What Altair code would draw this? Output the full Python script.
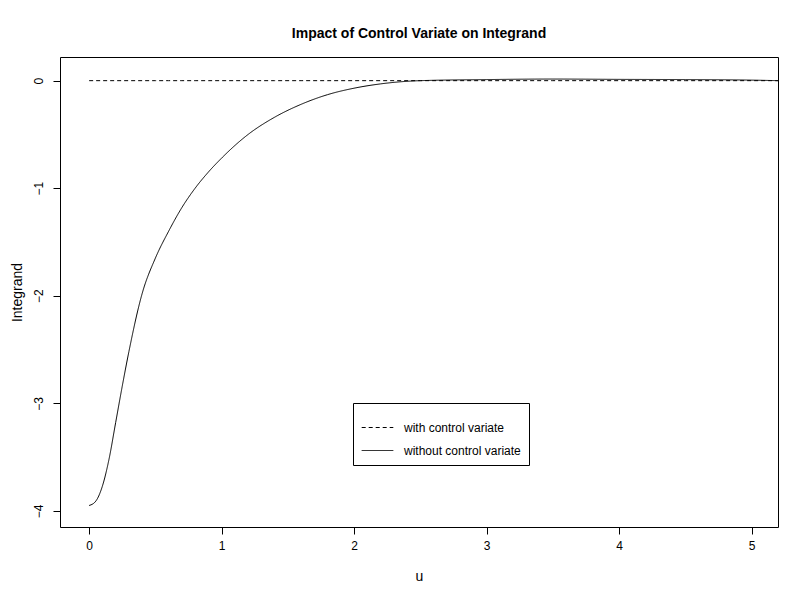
import altair as alt
import pandas as pd

u = [0, 0.05, 0.1, 0.15, 0.2, 0.25, 0.3, 0.4, 0.5, 0.6, 0.7, 0.8, 0.9, 1.0,
     1.2, 1.4, 1.6, 1.8, 2.0, 2.2, 2.5, 3.0, 3.5, 4.0, 4.5, 5.0, 5.2]
without_cv = [-3.95, -3.91, -3.77, -3.52, -3.18, -2.84, -2.52, -1.98, -1.65, -1.4,
              -1.18, -1.0, -0.85, -0.72, -0.5, -0.34, -0.22, -0.13, -0.07,
              -0.03, 0.0, 0.01, 0.015, 0.012, 0.01, 0.005, 0.0]
with_cv = [0.0] * len(u)

rows = []
for x, a, b in zip(u, with_cv, without_cv):
    rows.append({"u": x, "val": a, "series": "with control variate"})
    rows.append({"u": x, "val": b, "series": "without control variate"})
df = pd.DataFrame(rows)

font = "Liberation Sans"
chart = alt.Chart(df).mark_line(color="black", strokeWidth=1, clip=True,
                                interpolate="monotone").encode(
    x=alt.X("u:Q", title="u",
            scale=alt.Scale(domain=[-0.22, 5.2], nice=False, zero=False),
            axis=alt.Axis(values=[0, 1, 2, 3, 4, 5], grid=False, domain=False,
                          tickColor="black", tickSize=7, labelPadding=6,
                          titlePadding=18)),
    y=alt.Y("val:Q", title="Integrand",
            scale=alt.Scale(domain=[-4.15, 0.22], nice=False, zero=False),
            axis=alt.Axis(values=[0, -1, -2, -3, -4], grid=False, domain=False,
                          tickColor="black", tickSize=7, labelAngle=270,
                          labelAlign="center", labelBaseline="bottom",
                          labelPadding=8, titlePadding=8)),
    strokeDash=alt.StrokeDash(
        "series:N",
        scale=alt.Scale(domain=["with control variate", "without control variate"],
                        range=[[4, 3], [1, 0]]),
        legend=alt.Legend(title=None, orient="none", legendX=293, legendY=346,
                          strokeColor="black", fillColor="white", padding=8,
                          symbolType="stroke", symbolSize=1000,
                          symbolStrokeColor="black", symbolStrokeWidth=1,
                          labelFontSize=12, labelFont=font, rowPadding=0,
                          labelOffset=10, cornerRadius=0)),
    detail="series:N",
).properties(
    width=718, height=470,
    title=alt.Title("Impact of Control Variate on Integrand", fontSize=14,
                    font=font, fontWeight="bold", offset=16),
    autosize=alt.AutoSizeParams(type="none"),
    padding={"left": 52, "top": 49, "right": 20, "bottom": 60},
).configure_view(
    stroke="black", strokeWidth=1
).configure_axis(
    labelFont=font, titleFont=font, labelFontSize=12, titleFontSize=14,
    titleFontWeight="normal", labelColor="black", titleColor="black"
)

chart.save("out.html", embed_options={"renderer": "svg", "actions": False})
